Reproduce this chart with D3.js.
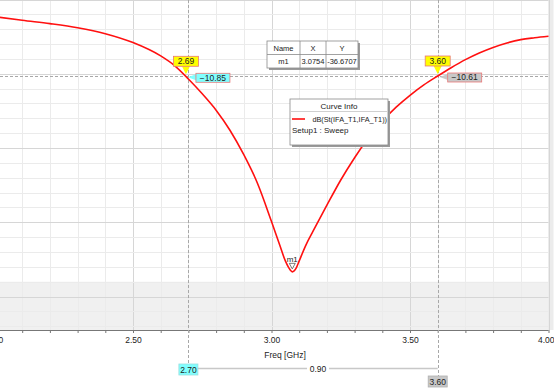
<!DOCTYPE html>
<html>
<head>
<meta charset="utf-8">
<script src="https://cdn.jsdelivr.net/npm/d3@7"></script>
<style>
  body { margin: 0; background: #fff; }
  svg text { font-family: "Liberation Sans", Arial, sans-serif; fill: #222; }
</style>
</head>
<body>
<div id="chart-location"></div>
<script>
// (DATA) S11 sweep
var freqGHz = [2.00, 2.10, 2.20, 2.30, 2.40, 2.50, 2.60, 2.65, 2.70, 2.75, 2.80, 2.85, 2.90, 2.95, 3.00,
               3.03, 3.05, 3.062, 3.075, 3.09, 3.10, 3.125, 3.15, 3.20, 3.25, 3.30, 3.35, 3.40, 3.45, 3.50,
               3.55, 3.60, 3.65, 3.70, 3.75, 3.80, 3.85, 3.90, 3.95, 4.00];
var s11dB = [-2.3, -2.8, -3.25, -3.8, -4.6, -5.8, -7.6, -8.9, -10.7, -12.7, -14.9, -17.6, -20.9, -24.8, -29.9,
             -33.1, -35.2, -36.1, -36.67, -36.1, -35.2, -33.0, -31.2, -27.7, -24.3, -21.3, -18.6, -16.4, -14.5, -12.9,
             -11.5, -10.3, -9.15, -8.1, -7.2, -6.45, -5.85, -5.4, -5.15, -4.95];

// (AXIS) tick labels
var xTickLabels = [2.0, 2.5, 3.0, 3.5, 4.0];

// (MARKERS) point markers and the delta pair
var markerFreq = [2.69, 3.60];
var markerDb = [-10.85, -10.61];
var markerValueFill = ["#80ffff", "#c8c8c8"];
var deltaFreq = [2.70, 3.60];

// (TABLES) marker table + curve info
var tableHeader = ["Name", "X", "Y"];
var tableRow = ["m1", "3.0754", "-36.6707"];
var curveName = "dB(St(IFA_T1,IFA_T1))";
var setupName = "Setup1 : Sweep";

function init () {
    var w = 554;
    var h = 390;
    var axisY = 330;

    // (SCALES)
    var xScale = d3.scaleLinear().domain([2, 4]).range([-5.5, 548.5]);
    var yScale = d3.scaleLinear().domain([0, -44.5]).range([-0.5, axisY]);

    // value of the trace at a given freq (linear between samples)
    function traceAt(f) {
        var i = d3.bisectLeft(freqGHz, f);
        if (i <= 0) return s11dB[0];
        var t = (f - freqGHz[i - 1]) / (freqGHz[i] - freqGHz[i - 1]);
        return s11dB[i - 1] + t * (s11dB[i] - s11dB[i - 1]);
    }

    var svg = d3.select("#chart-location").append("svg")
        .attr("width", w).attr("height", h);

    // shaded band at the bottom of the plot
    svg.append("rect")
        .attr("x", 0).attr("y", yScale(-38))
        .attr("width", xScale(4)).attr("height", axisY - yScale(-38))
        .attr("fill", "#f0f0f0");
    // right border strip
    svg.append("rect")
        .attr("x", xScale(4) - 0.5).attr("y", 0)
        .attr("width", w - xScale(4)).attr("height", axisY)
        .attr("fill", "#ececec");

    // (GRID) vertical every 0.1 GHz, horizontal every 2 dB
    var xGrid = d3.range(20, 41).map(function(d) { return d / 10; });
    svg.append("g").selectAll("line")
        .data(xGrid).enter().append("line")
        .attr("x1", function(d) { return Math.round(xScale(d)) + 0.5; })
        .attr("x2", function(d) { return Math.round(xScale(d)) + 0.5; })
        .attr("y1", 0).attr("y2", axisY)
        .attr("stroke", function(d, i) { return i % 5 === 0 ? "#d6d6d6" : "#ebebeb"; })
        .attr("stroke-width", 1);

    var yGrid = d3.range(0, 23).map(function(d) { return -2 * d; });
    svg.append("g").selectAll("line")
        .data(yGrid).enter().append("line")
        .attr("x1", 0).attr("x2", xScale(4))
        .attr("y1", function(d) { return Math.round(yScale(d)) + 0.5; })
        .attr("y2", function(d) { return Math.round(yScale(d)) + 0.5; })
        .attr("stroke", function(d, i) { return i % 5 === 0 ? "#d6d6d6" : "#ebebeb"; })
        .attr("stroke-width", 1);

    // (X-AXIS)
    var xAxis = d3.axisBottom(xScale)
        .tickValues(xGrid)
        .tickSize(3)
        .tickFormat(function(d) {
            return xTickLabels.some(function(t) { return Math.abs(t - d) < 1e-6; }) ? d3.format(".2f")(d) : "";
        });
    var gx = svg.append("g")
        .attr("transform", "translate(0," + axisY + ")")
        .call(xAxis);
    gx.select(".domain").attr("stroke", "#777").attr("d", "M0,0.5H" + xScale(4));
    gx.selectAll(".tick line").attr("stroke", "#777");
    gx.selectAll(".tick text")
        .attr("y", 7)
        .style("font-family", "Liberation Sans, Arial, sans-serif")
        .style("font-size", "8.5px").attr("fill", "#333");
    // last label sits at the window edge, keep it inside
    gx.selectAll(".tick text").filter(function(d) { return d === 4; })
        .attr("text-anchor", "end").attr("x", w - xScale(4));

    svg.append("text")
        .attr("x", 285).attr("y", 358)
        .attr("text-anchor", "middle")
        .style("font-size", "8.5px")
        .text("Freq [GHz]");

    // (DASHED CURSORS)
    deltaFreq.forEach(function(f, i) {
        svg.append("line")
            .attr("x1", Math.round(xScale(f)) + 0.5).attr("x2", Math.round(xScale(f)) + 0.5)
            .attr("y1", 0).attr("y2", i === 0 ? 364 : 376)
            .attr("stroke", "#a8a8a8").attr("stroke-dasharray", "3,2");
    });
    var cursorY = Math.round(d3.mean(markerFreq, function(f) { return yScale(traceAt(f)); })) + 0.5;
    svg.append("line")
        .attr("x1", 0).attr("x2", xScale(4))
        .attr("y1", cursorY).attr("y2", cursorY)
        .attr("stroke", "#a8a8a8").attr("stroke-dasharray", "3,2");

    // (CURVE)
    var line = d3.line()
        .x(function(d, i) { return xScale(freqGHz[i]); })
        .y(function(d) { return yScale(d); })
        .curve(d3.curveMonotoneX);
    svg.append("path")
        .datum(s11dB)
        .attr("d", line)
        .attr("fill", "none")
        .attr("stroke", "#ff1010")
        .attr("stroke-width", 1.6);

    // (M1) minimum marker
    var iMin = d3.minIndex(s11dB);
    var mx = xScale(freqGHz[iMin]);
    var my = yScale(s11dB[iMin]);
    svg.append("path")
        .attr("d", "M" + (mx - 3) + "," + (my - 8.5) + "H" + (mx + 3) + "L" + mx + "," + (my - 3) + "Z")
        .attr("fill", "#fff").attr("stroke", "#444").attr("stroke-width", 0.7);
    svg.append("text")
        .attr("x", mx).attr("y", my - 9.5)
        .attr("text-anchor", "middle")
        .style("font-size", "8px")
        .text("m1");

    // (POINT MARKERS) yellow freq tag + value tag
    markerFreq.forEach(function(f, i) {
        var px = xScale(f) + (i === 0 ? 0.3 : 0);
        var py = yScale(traceAt(f));
        var g = svg.append("g");
        g.append("path")
            .attr("d", "M" + (px - 4) + "," + (py - 10) + "H" + (px + 4) + "L" + px + "," + (py - 2) + "Z")
            .attr("fill", "#ffff00");
        g.append("rect")
            .attr("x", px - 12.5).attr("y", py - 20)
            .attr("width", 25).attr("height", 10)
            .attr("fill", "#ffff00").attr("stroke", "#e87878").attr("stroke-width", 0.8);
        g.append("text")
            .attr("x", px).attr("y", py - 12)
            .attr("text-anchor", "middle")
            .style("font-size", "8.5px")
            .text(d3.format(".2f")(f));

        var vx = px + 10;
        g.append("path")
            .attr("d", "M" + (px + 2) + "," + (py + 1) + "L" + vx + "," + (py - 2) + "V" + (py + 4) + "Z")
            .attr("fill", markerValueFill[i]);
        g.append("rect")
            .attr("x", vx).attr("y", py - 3)
            .attr("width", 34).attr("height", 9)
            .attr("fill", markerValueFill[i]).attr("stroke", "#e87878").attr("stroke-width", 0.8);
        g.append("text")
            .attr("x", vx + 17).attr("y", py + 4.5)
            .attr("text-anchor", "middle")
            .style("font-size", "8.5px")
            .text(d3.format(".2f")(markerDb[i]));
    });

    // (DELTA BAR) under the axis
    var dx0 = xScale(deltaFreq[0]);
    var dx1 = xScale(deltaFreq[1]);
    svg.append("line")
        .attr("x1", dx0 + 9).attr("x2", dx1).attr("y1", 368.5).attr("y2", 368.5)
        .attr("stroke", "#c8c8c8").attr("stroke-width", 1.5);
    var deltaText = d3.format(".2f")(deltaFreq[1] - deltaFreq[0]);
    var dMid = (dx0 + dx1) / 2 + 5;
    svg.append("rect")
        .attr("x", dMid - 11).attr("y", 364)
        .attr("width", 22).attr("height", 9).attr("fill", "#fff");
    svg.append("text")
        .attr("x", dMid).attr("y", 372)
        .attr("text-anchor", "middle")
        .style("font-size", "8.5px").attr("fill", "#333")
        .text(deltaText);
    [[dx0, 364, "#80ffff"], [dx1, 376, "#c8c8c8"]].forEach(function(b, i) {
        svg.append("rect")
            .attr("x", b[0] - 9.5).attr("y", b[1])
            .attr("width", 19).attr("height", 11)
            .attr("fill", b[2]).attr("stroke", i === 0 ? "#9adede" : "#b0b0b0").attr("stroke-width", 0.8);
        svg.append("text")
            .attr("x", b[0]).attr("y", b[1] + 8.5)
            .attr("text-anchor", "middle")
            .style("font-size", "8.5px")
            .text(d3.format(".2f")(deltaFreq[i]));
    });

    // (MARKER TABLE)
    var tx = 267, ty = 41, cols = [0, 33, 59, 91], rowH = 13.5;
    svg.append("rect").attr("x", tx + 2).attr("y", ty + 2)
        .attr("width", cols[3]).attr("height", rowH * 2).attr("fill", "#9a9a9a");
    svg.append("rect").attr("x", tx).attr("y", ty)
        .attr("width", cols[3]).attr("height", rowH * 2)
        .attr("fill", "#fff").attr("stroke", "#8a8a8a").attr("stroke-width", 0.8);
    svg.append("line").attr("x1", tx).attr("x2", tx + cols[3])
        .attr("y1", ty + rowH).attr("y2", ty + rowH).attr("stroke", "#8a8a8a").attr("stroke-width", 0.8);
    [1, 2].forEach(function(c) {
        svg.append("line").attr("x1", tx + cols[c]).attr("x2", tx + cols[c])
            .attr("y1", ty).attr("y2", ty + rowH * 2).attr("stroke", "#8a8a8a").attr("stroke-width", 0.8);
    });
    [tableHeader, tableRow].forEach(function(row, r) {
        row.forEach(function(cell, c) {
            svg.append("text")
                .attr("x", tx + (cols[c] + cols[c + 1]) / 2)
                .attr("y", ty + rowH * r + 9.5)
                .attr("text-anchor", "middle")
                .style("font-size", "7.5px")
                .text(cell);
        });
    });

    // (CURVE INFO) legend box
    var lx = 290, ly = 99, lw = 98, lh = 46;
    svg.append("rect").attr("x", lx + 2).attr("y", ly + 2)
        .attr("width", lw).attr("height", lh).attr("fill", "#9a9a9a");
    svg.append("rect").attr("x", lx).attr("y", ly)
        .attr("width", lw).attr("height", lh)
        .attr("fill", "#fff").attr("stroke", "#8a8a8a").attr("stroke-width", 0.8);
    svg.append("line").attr("x1", lx).attr("x2", lx + lw)
        .attr("y1", ly + 12.5).attr("y2", ly + 12.5).attr("stroke", "#d0d0d0");
    svg.append("text").attr("x", lx + lw / 2).attr("y", ly + 10)
        .attr("text-anchor", "middle").style("font-size", "8px").text("Curve Info");
    svg.append("line").attr("x1", lx + 2).attr("x2", lx + 15)
        .attr("y1", ly + 20).attr("y2", ly + 20)
        .attr("stroke", "#ff1010").attr("stroke-width", 1.6);
    svg.append("text").attr("x", lx + lw - 1).attr("y", ly + 23)
        .attr("text-anchor", "end").style("font-size", "7.3px").text(curveName);
    svg.append("text").attr("x", lx + 2).attr("y", ly + 34)
        .style("font-size", "8px").text(setupName);
}

window.onload = init;
</script>
</body>
</html>
